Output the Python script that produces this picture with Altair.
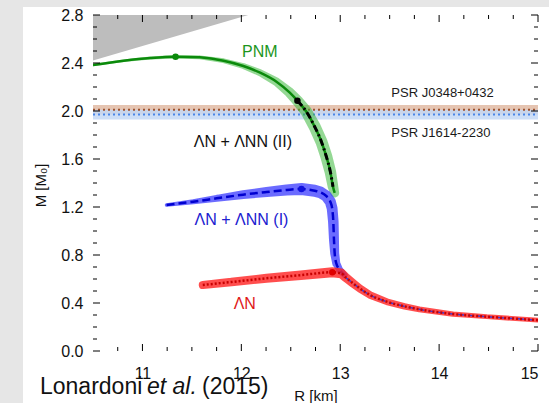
import altair as alt
import pandas as pd

# ---- mass-radius relations (R in km, M in solar masses) ----
# pure neutron matter
pnm_r = [10.50, 10.81, 11.08, 11.335, 11.58, 11.82, 12.02, 12.19, 12.355, 12.49,
         12.567, 12.658, 12.742, 12.81, 12.86, 12.90, 12.927, 12.944]
pnm_m = [2.383, 2.419, 2.442, 2.453, 2.447, 2.419, 2.375, 2.319, 2.244, 2.153,
         2.086, 1.994, 1.869, 1.744, 1.619, 1.494, 1.369, 1.317]
pnm_err = [0.021, 0.021, 0.025, 0.029, 0.033, 0.040, 0.048, 0.058, 0.070, 0.085,
           0.092, 0.096, 0.100, 0.100, 0.100, 0.096, 0.088, 0.075]
pnm_onset = 10          # index where hyperons (LN + LNN II) appear
pnm_end_ll2 = 17

# LN + LNN (I)
ll1_r = [11.244, 11.513, 11.75, 12.018, 12.255, 12.457, 12.608, 12.742, 12.80, 12.858,
         12.90, 12.918, 12.93, 12.937, 12.944, 12.96, 12.995, 13.045]
ll1_m = [1.217, 1.244, 1.272, 1.303, 1.325, 1.342, 1.350, 1.336, 1.322, 1.292,
         1.244, 1.190, 1.080, 0.925, 0.814, 0.731, 0.675, 0.633]
ll1_err = [0.029, 0.042, 0.058, 0.072, 0.085, 0.092, 0.100, 0.100, 0.098, 0.095,
           0.092, 0.090, 0.088, 0.083, 0.075, 0.067, 0.058, 0.050]

# LN
ln_r = [11.61, 11.90, 12.255, 12.60, 12.92]
ln_m = [0.550, 0.575, 0.606, 0.632, 0.656]
ln_err = [0.067, 0.071, 0.075, 0.079, 0.083]

# nucleonic low-mass branch shared by all models
tail_r = [12.92, 13.01, 13.06, 13.13, 13.20, 13.30, 13.47, 13.65, 13.80, 14.14, 14.48, 15.00]
tail_m = [0.656, 0.647, 0.610, 0.564, 0.520, 0.467, 0.411, 0.372, 0.347, 0.308, 0.286, 0.257]
tail_err = [0.083, 0.080, 0.075, 0.071, 0.067, 0.062, 0.056, 0.052, 0.048, 0.044, 0.040, 0.040]

# maximum-mass configurations
max_r = [11.335, 12.567, 12.608, 12.92]
max_m = [2.453, 2.086, 1.350, 0.656]
max_col = ["#0b8a0b", "#000000", "#1010dd", "#e00000"]

# observed pulsar masses (mean, error)
psr_names = ["PSR J0348+0432", "PSR J1614-2230"]
psr_mass = [2.01, 1.97]
psr_err = [0.04, 0.04]

# causality limit
caus_r = [10.50, 12.07]
caus_m = [2.42, 2.80]

# axis ticks
x_major = [11, 12, 13, 14, 15]
x_minor = [10.75, 11.25, 11.5, 11.75, 12.25, 12.5, 12.75, 13.25, 13.5, 13.75,
           14.25, 14.5, 14.75]
y_major = [0.0, 0.4, 0.8, 1.2, 1.6, 2.0, 2.4, 2.8]
y_minor = [0.1, 0.2, 0.3, 0.5, 0.6, 0.7, 0.9, 1.0, 1.1, 1.3, 1.4, 1.5, 1.7, 1.8,
           1.9, 2.1, 2.2, 2.3, 2.5, 2.6, 2.7]

W, H = 445, 336
FONT = "Liberation Sans"

xs = alt.Scale(domain=[10.5, 15], nice=False, zero=False)
ys = alt.Scale(domain=[0, 2.8], nice=False, zero=False)
x_axis = alt.Axis(values=x_major, format="d", ticks=False, tickSize=0, domain=False,
                  grid=False, labelFontSize=16, labelFont=FONT, labelColor="#111",
                  labelPadding=14, title="R [km]", titleFont=FONT, titleFontSize=15,
                  titleFontWeight="normal", titleColor="#111", titleX=W / 2, titleY=49,
                  titleBaseline="alphabetic", zindex=1)
y_axis = alt.Axis(values=y_major, format=".1f", ticks=False, tickSize=0, domain=False,
                  grid=False, labelFontSize=16, labelFont=FONT, labelColor="#111",
                  labelPadding=10, title="M [M₀]", titleFont=FONT, titleFontSize=15,
                  titleFontWeight="normal", titleColor="#111", titleX=-48, titleY=170,
                  titleAngle=270, titleBaseline="alphabetic", zindex=1)
X = alt.X("R:Q", scale=xs, axis=x_axis)
Y = alt.Y("M:Q", scale=ys, axis=y_axis)


def curve(r, m, err=None):
    d = {"R": r, "M": m, "ord": list(range(len(r)))}
    if err is not None:
        d["w"] = err
    return pd.DataFrame(d)


def band(df, color, opacity):
    return alt.Chart(df).mark_trail(color=color, opacity=opacity, clip=True).encode(
        x=X, y=Y, order="ord:Q",
        size=alt.Size("w:Q", scale=alt.Scale(domain=[0, 0.1], range=[0, 12]), legend=None))


def line(df, color, width, dash=None):
    kw = dict(color=color, strokeWidth=width, interpolate="monotone", clip=True)
    if dash:
        kw["strokeDash"] = dash
    return alt.Chart(df).mark_line(**kw).encode(x=X, y=Y, order="ord:Q")


pnm = curve(pnm_r, pnm_m, pnm_err)
ll2 = curve(pnm_r[pnm_onset:pnm_end_ll2], pnm_m[pnm_onset:pnm_end_ll2])
ll1 = curve(ll1_r, ll1_m, ll1_err)
ln = curve(ln_r + tail_r[1:], ln_m + tail_m[1:], ln_err + tail_err[1:])
tail = curve(tail_r[2:], tail_m[2:])

one = pd.DataFrame({"a": [0]})

# white page on a light grey surround
page = alt.Chart(one).mark_rect(color="white").encode(
    x=alt.value(-70), x2=alt.value(W + 20), y=alt.value(-8), y2=alt.value(H + 60))

caus = alt.Chart(pd.DataFrame({"R": caus_r, "M": caus_m})).mark_area(
    color="#bdbdbd", opacity=1).encode(x=X, y=Y, y2=alt.datum(2.8))

psr = pd.DataFrame({"name": psr_names, "M": psr_mass,
                    "lo": [a - b for a, b in zip(psr_mass, psr_err)],
                    "hi": [a + b for a, b in zip(psr_mass, psr_err)]})
psr_band_a = alt.Chart(psr.iloc[[0]]).mark_rect(color="#e2bea8", opacity=0.9).encode(
    x=alt.value(0), x2=alt.value(W), y=alt.Y("lo:Q", scale=ys, axis=y_axis), y2="hi:Q")
psr_band_b = alt.Chart(psr.iloc[[1]]).mark_rect(color="#c4d8f6", opacity=0.85).encode(
    x=alt.value(0), x2=alt.value(W), y=alt.Y("lo:Q", scale=ys, axis=y_axis), y2="hi:Q")
psr_line_a = alt.Chart(psr.iloc[[0]]).mark_rule(color="#a0522d", strokeWidth=2,
                                                 strokeDash=[2, 3]).encode(
    x=alt.value(0), x2=alt.value(W), y=Y)
psr_line_b = alt.Chart(psr.iloc[[1]]).mark_rule(color="#4a86e8", strokeWidth=2,
                                                 strokeDash=[2, 3]).encode(
    x=alt.value(0), x2=alt.value(W), y=Y)

dots = alt.Chart(pd.DataFrame({"R": max_r, "M": max_m, "c": max_col})).mark_circle(
    size=42, opacity=1).encode(x=X, y=Y, color=alt.Color("c:N", scale=None))


def label(text, r, m, color, size, align="center"):
    return alt.Chart(pd.DataFrame({"R": [r], "M": [m], "t": [text]})).mark_text(
        font=FONT, fontSize=size, color=color, align=align, baseline="middle").encode(
        x=X, y=Y, text="t:N")


labels = [
    label("PNM", 12.187, 2.494, "#1c961c", 16),
    label("ΛN + ΛNN (II)", 12.015, 1.744, "#111111", 16),
    label("ΛN + ΛNN (I)", 12.002, 1.092, "#2020d0", 16),
    label("ΛN", 12.035, 0.392, "#e01818", 16),
    label(psr_names[0], 13.517, 2.147, "#1a1a1a", 13, "left"),
    label(psr_names[1], 13.517, 1.814, "#1a1a1a", 13, "left"),
]


# reference caption below the axis
def caption(text, style, xpix):
    return alt.Chart(one).mark_text(font=FONT, fontSize=23, fontStyle=style, color="#111",
                                    align="left", baseline="alphabetic").encode(
        x=alt.value(xpix), y=alt.value(379), text=alt.value(text))


captions = [caption("Lonardoni", "normal", -53),
            caption("et al.", "italic", 54),
            caption("(2015)", "normal", 109)]


def xticks(vals, length):
    d = pd.DataFrame({"R": vals})
    bottom = alt.Chart(d).mark_rule(color="black", strokeWidth=1).encode(
        x=X, y=alt.value(H), y2=alt.value(H - length))
    top = alt.Chart(d).mark_rule(color="black", strokeWidth=1).encode(
        x=X, y=alt.value(0), y2=alt.value(length))
    return [bottom, top]


def yticks(vals, length):
    d = pd.DataFrame({"M": vals})
    left = alt.Chart(d).mark_rule(color="black", strokeWidth=1).encode(
        y=Y, x=alt.value(0), x2=alt.value(length))
    right = alt.Chart(d).mark_rule(color="black", strokeWidth=1).encode(
        y=Y, x=alt.value(W), x2=alt.value(W - length))
    return [left, right]


ticks = xticks(x_major, 7) + xticks(x_minor, 4) + yticks(y_major, 7) + yticks(y_minor, 4)

layers = [
    page,
    caus,
    psr_band_a, psr_band_b, psr_line_a, psr_line_b,
    band(pnm, "#3cb83c", 0.55),
    line(pnm, "#0b8a0b", 2.5),
    line(ll2, "#000000", 3, [7, 3, 2, 3]),
    band(ll1, "#3a3aff", 0.75),
    line(ll1, "#0000d0", 2.5, [8, 4]),
    band(ln, "#ff2222", 0.8),
    line(tail, "#3a3ad8", 1.5, [6, 4]),
    line(ln, "#c80000", 2.5, [2, 2]),
    dots,
] + labels + captions + ticks

chart = alt.layer(*layers).properties(
    width=W, height=H,
    autosize=alt.AutoSizeParams(type="none"),
    padding={"left": 93, "top": 15, "right": 11, "bottom": 52},
).configure(background="#e6e6e6").configure_view(stroke="black", strokeWidth=1)

chart.save("out.html", embed_options={"renderer": "svg", "actions": False})
